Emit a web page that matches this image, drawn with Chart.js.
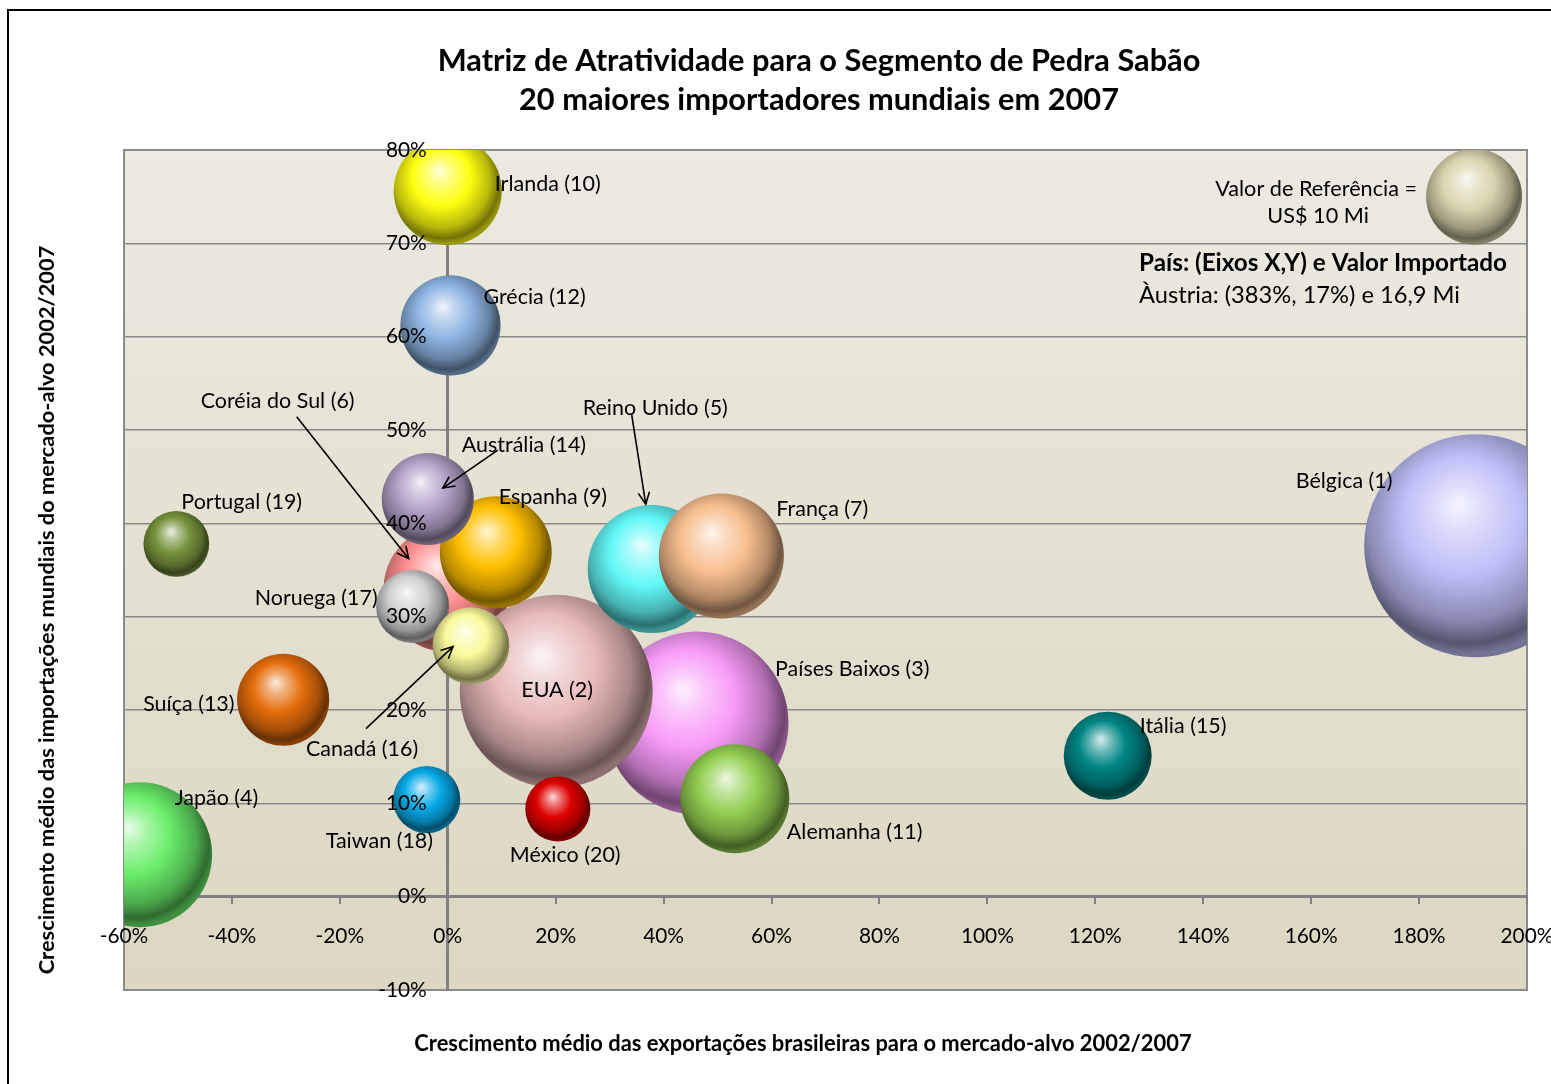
<!DOCTYPE html>
<html>
<head>
<meta charset="utf-8">
<title>Matriz de Atratividade - Pedra Sabão</title>
<script src="https://cdn.jsdelivr.net/npm/chart.js@4.4.1/dist/chart.umd.min.js"></script>
<style>
  html, body { margin: 0; padding: 0; background: #fff; }
</style>
</head>
<body>
<canvas id="chart" width="1551" height="1084"></canvas>
<script>
// paises na ordem de desenho (os de tras primeiro)
var paises = ['Bélgica', 'Países Baixos', 'Japão', 'Coréia do Sul', 'EUA', 'Reino Unido', 'França',
  'Alemanha', 'Espanha', 'Austrália', 'Irlanda', 'Grécia', 'Suíça', 'Itália', 'Noruega', 'Canadá',
  'Taiwan', 'Portugal', 'México'];
var ranking = [1, 3, 4, 6, 2, 5, 7, 11, 9, 14, 10, 12, 13, 15, 17, 16, 18, 19, 20];
// eixo X: crescimento medio das exportacoes brasileiras (%)
var crescExport = [190.5, 46.2, -57.1, -0.2, 20.1, 37.8, 50.7, 53.2, 8.9, -3.7, 0.0, 0.5, -30.5,
  122.3, -6.5, 4.3, -3.9, -50.3, 20.4];
// eixo Y: crescimento medio das importacoes mundiais (%)
var crescImport = [37.6, 18.6, 4.5, 33.0, 22.0, 35.1, 36.5, 10.5, 36.9, 42.6, 75.6, 61.2, 21.1,
  15.1, 31.1, 26.9, 10.4, 37.8, 9.4];
// valor importado (US$ milhoes)
var valorImportado = [54.0, 36.3, 22.8, 17.3, 40.4, 17.8, 17.0, 12.9, 13.6, 9.2, 12.7, 10.9, 9.2,
  8.4, 5.8, 6.4, 4.9, 4.7, 4.6];

// bolha de referencia
var valorReferencia = 10;
var refX = 190.2;
var refY = 75.0;

var xTicks = [-60, -40, -20, 0, 20, 40, 60, 80, 100, 120, 140, 160, 180, 200];
var yTicks = [-10, 0, 10, 20, 30, 40, 50, 60, 70, 80];

// estilo
var cores = ['#BEBEF7', '#F79AF7', '#6AEE6A', '#FF8E8E', '#E8BAB9', '#62F7F7', '#F7BE8E',
  '#93CF52', '#FFC000', '#B3A2C8', '#FFFF10', '#8EB4E3', '#E56D0C', '#008585', '#CFCFCF',
  '#FAFA9C', '#08AAE8', '#77933C', '#DD0000'];
var corReferencia = '#D9D4AE';
var RAIO_REF = 48;

// posicao dos rotulos em px relativa ao centro da bolha (dx = inicio do texto)
var rotulos = {
  'Bélgica': [-180, -65],
  'Países Baixos': [78, -54],
  'Japão': [35, -57],
  'Coréia do Sul': [-246, -188, [-150, -172, -38, -30]],
  'EUA': [-35, -1],
  'Reino Unido': [-69, -161, [-20, -154, -6, -65]],
  'França': [55, -47],
  'Alemanha': [52, 33],
  'Espanha': [3, -55],
  'Austrália': [34, -54, [70, -49, 15, -11]],
  'Irlanda': [47, -7],
  'Grécia': [33, -28],
  'Suíça': [-140, 4],
  'Itália': [32, -30],
  'Noruega': [-158, -8],
  'Canadá': [-165, 103, [-105, 83, -18, 1]],
  'Taiwan': [-101, 41],
  'Portugal': [5, -42],
  'México': [-48, 46]
};

var FONTE = 'Lato, "Open Sans", sans-serif';
var medidor = document.createElement('canvas').getContext('2d');
function tamanhoPara(texto, peso, largura) {
  medidor.font = peso + ' 100px ' + FONTE;
  return 100 * largura / medidor.measureText(texto).width;
}
var tamRotulo = tamanhoPara('Coréia do Sul (6)', 'normal', 154);
var tamTick = tamanhoPara('120%', 'normal', 53);
var tamTitulo = tamanhoPara('Matriz de Atratividade para o Segmento de Pedra Sabão', 'bold', 763);
var tamTituloX = tamanhoPara('Crescimento médio das exportações brasileiras para o mercado-alvo 2002/2007', 'bold', 778);
var tamTituloY = tamanhoPara('Crescimento médio das importações mundiais do mercado-alvo 2002/2007', 'bold', 729);
var tamLegenda = tamanhoPara('País: (Eixos X,Y) e Valor Importado', 'bold', 368);
var tamAustria = tamanhoPara('Àustria: (383%, 17%) e 16,9 Mi', 'normal', 321);
var tamRef = tamanhoPara('Valor de Referência =', 'normal', 202);

function raio(v) {
  return RAIO_REF * Math.sqrt(v / valorReferencia);
}

function misturar(hex, alvo, t) {
  var n = parseInt(hex.slice(1), 16);
  var r = (n >> 16) & 255, g = (n >> 8) & 255, b = n & 255;
  r = Math.round(r + (alvo - r) * t);
  g = Math.round(g + (alvo - g) * t);
  b = Math.round(b + (alvo - b) * t);
  return 'rgb(' + r + ',' + g + ',' + b + ')';
}

// gradiente "esfera 3D" como as bolhas do Excel
function esfera(c) {
  var base = c.dataIndex < cores.length ? cores[c.dataIndex] : corReferencia;
  var chart = c.chart;
  if (c.type !== 'data' || !chart.chartArea) return base;
  var x = chart.scales.x.getPixelForValue(c.raw.x);
  var y = chart.scales.y.getPixelForValue(c.raw.y);
  var r = c.raw.r;
  var g = chart.ctx.createRadialGradient(x - 0.16 * r, y - 0.38 * r, 0, x - 0.08 * r, y - 0.15 * r, 1.12 * r);
  g.addColorStop(0, misturar(base, 255, 0.85));
  g.addColorStop(0.2, misturar(base, 255, 0.45));
  g.addColorStop(0.48, base);
  g.addColorStop(0.78, misturar(base, 0, 0.28));
  g.addColorStop(0.93, misturar(base, 0, 0.55));
  g.addColorStop(1, misturar(base, 0, 0.4));
  return g;
}

var pontos = paises.map(function(p, i) {
  return { x: crescExport[i], y: crescImport[i], r: raio(valorImportado[i]) };
});
pontos.push({ x: refX, y: refY, r: raio(valorReferencia) });

function seta(ctx, x1, y1, x2, y2) {
  ctx.beginPath();
  ctx.moveTo(x1, y1);
  ctx.lineTo(x2, y2);
  ctx.stroke();
  var ang = Math.atan2(y2 - y1, x2 - x1), L = 13, w = 0.45;
  ctx.beginPath();
  ctx.moveTo(x2 - L * Math.cos(ang - w), y2 - L * Math.sin(ang - w));
  ctx.lineTo(x2, y2);
  ctx.lineTo(x2 - L * Math.cos(ang + w), y2 - L * Math.sin(ang + w));
  ctx.stroke();
}

var fundo = {
  id: 'fundo',
  beforeDraw: function(chart) {
    var ctx = chart.ctx, a = chart.chartArea;
    ctx.save();
    ctx.fillStyle = '#fff';
    ctx.fillRect(0, 0, chart.width, chart.height);
    ctx.strokeStyle = '#000';
    ctx.lineWidth = 2;
    ctx.strokeRect(8, 10, chart.width, chart.height);
    var g = ctx.createLinearGradient(0, a.top, 0, a.bottom);
    g.addColorStop(0, '#ECEAE1');
    g.addColorStop(1, '#DCD7C2');
    ctx.fillStyle = g;
    ctx.fillRect(a.left, a.top, a.width, a.height);
    ctx.strokeStyle = '#8C8C8C';
    ctx.lineWidth = 2;
    ctx.strokeRect(a.left, a.top, a.width, a.height);
    ctx.restore();
  },
  afterDatasetsDraw: function(chart) {
    var ctx = chart.ctx;
    var els = chart.getDatasetMeta(0).data;
    ctx.save();
    ctx.fillStyle = '#000';
    ctx.strokeStyle = '#000';
    ctx.lineWidth = 1.6;
    ctx.textBaseline = 'middle';
    ctx.textAlign = 'left';
    ctx.font = tamRotulo + 'px ' + FONTE;
    paises.forEach(function(p, i) {
      var el = els[i], pos = rotulos[p];
      ctx.fillText(p + ' (' + ranking[i] + ')', el.x + pos[0], el.y + pos[1]);
      if (pos[2]) {
        var s = pos[2];
        seta(ctx, el.x + s[0], el.y + s[1], el.x + s[2], el.y + s[3]);
      }
    });
    // caixa de referencia
    var ref = els[paises.length];
    ctx.textAlign = 'center';
    ctx.font = tamRef + 'px ' + FONTE;
    ctx.fillText('Valor de Referência =', ref.x - 158, ref.y - 8);
    ctx.fillText('US$ 10 Mi', ref.x - 156, ref.y + 19);
    ctx.textAlign = 'left';
    ctx.font = 'bold ' + tamLegenda + 'px ' + FONTE;
    ctx.fillText('País: (Eixos X,Y) e Valor Importado', ref.x - 335, ref.y + 67);
    ctx.font = tamAustria + 'px ' + FONTE;
    ctx.fillText('Àustria: (383%, 17%) e 16,9 Mi', ref.x - 335, ref.y + 99);
    ctx.restore();
  },
  afterDraw: function(chart) {
    var ctx = chart.ctx;
    ctx.save();
    ctx.fillStyle = '#000';
    ctx.textAlign = 'center';
    ctx.textBaseline = 'middle';
    ctx.font = 'bold ' + tamTitulo + 'px ' + FONTE;
    ctx.fillText('Matriz de Atratividade para o Segmento de Pedra Sabão', 819, 61);
    ctx.fillText('20 maiores importadores mundiais em 2007', 819, 100);
    ctx.font = 'bold ' + tamTituloX + 'px ' + FONTE;
    ctx.fillText('Crescimento médio das exportações brasileiras para o mercado-alvo 2002/2007', 803, 1044);
    ctx.translate(47, 610);
    ctx.rotate(-Math.PI / 2);
    ctx.font = 'bold ' + tamTituloY + 'px ' + FONTE;
    ctx.fillText('Crescimento médio das importações mundiais do mercado-alvo 2002/2007', 0, 0);
    ctx.restore();
  }
};

var fonteTick = { family: FONTE, size: tamTick };
var pct = function(v) { return v + '%'; };

// eixo posicionado em x=0: o Chart.js cola os rotulos na linha, entao afasto um pouco
function afastarRotulos(s) {
  if (s._afastado) return;
  var desenhar = s.drawLabels;
  s.drawLabels = function(area) {
    this.ctx.save();
    this.ctx.translate(-21, 0);
    desenhar.call(this, area);
    this.ctx.restore();
  };
  s._afastado = true;
}

new Chart(document.getElementById('chart').getContext('2d'), {
  type: 'bubble',
  data: {
    datasets: [{
      data: pontos,
      backgroundColor: esfera,
      borderWidth: 0,
      hoverBorderWidth: 0,
      hoverRadius: 0
    }]
  },
  options: {
    responsive: false,
    animation: false,
    events: [],
    // as bolhas grandes sao cortadas pela area do grafico, como no original
    layout: { autoPadding: false, padding: { left: 124, top: 150, right: 24, bottom: 94 } },
    plugins: {
      legend: { display: false },
      tooltip: { enabled: false },
      title: { display: false }
    },
    scales: {
      x: {
        type: 'linear',
        min: -60,
        max: 200,
        position: { y: 0 },
        afterBuildTicks: function(s) { s.ticks = xTicks.map(function(v) { return { value: v }; }); },
        afterFit: function(s) { s.paddingLeft = 0; s.paddingRight = 0; },
        grid: { drawOnChartArea: false, drawTicks: true, tickLength: 6, color: '#808080', lineWidth: 2 },
        border: { color: '#808080', width: 3 },
        ticks: { padding: 21, color: '#000', font: fonteTick, callback: pct, z: 1, maxRotation: 0, autoSkip: false }
      },
      y: {
        type: 'linear',
        min: -10,
        max: 80,
        position: { x: 0 },
        afterBuildTicks: function(s) { s.ticks = yTicks.map(function(v) { return { value: v }; }); },
        afterFit: function(s) { s.paddingTop = 0; s.paddingBottom = 0; afastarRotulos(s); },
        grid: { color: '#8A8A8A', lineWidth: 1.5, tickLength: 7 },
        border: { color: '#808080', width: 3 },
        ticks: { padding: 14, color: '#000', font: fonteTick, callback: pct, z: 1, autoSkip: false }
      }
    }
  },
  plugins: [fundo]
});
</script>
</body>
</html>
